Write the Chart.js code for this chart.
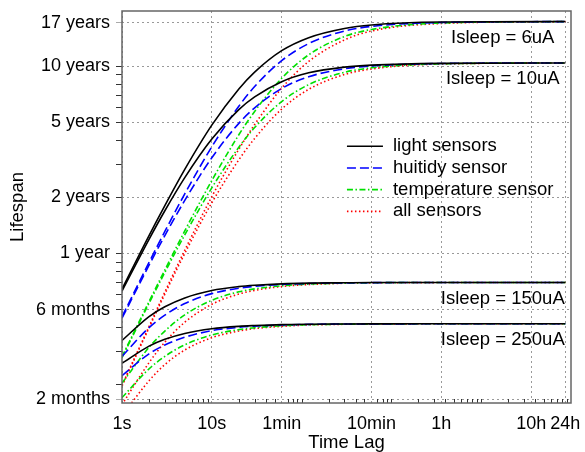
<!DOCTYPE html>
<html>
<head>
    <title>Lifespan vs time lag</title>
    <style>
        body {
            margin: 0;
            background-color: white;
        }
    </style>
    <script src="https://cdn.jsdelivr.net/npm/chart.js"></script>
</head>
<body>
    <canvas id="lifespan-chart" width="585" height="452"></canvas>

    <script>
        // time lag between samples (seconds)
        const timeLags = [1, 2, 3, 5, 10, 20, 30, 60, 120, 300, 600, 3600, 86400];

        // lifespan in years
        const light6uA = [0.646, 1.246, 1.80, 2.81, 4.84, 7.56, 9.30, 12.1, 14.2, 15.9, 16.6, 17.2, 17.3];
        const humidity6uA = [0.459, 0.895, 1.31, 2.08, 3.71, 6.11, 7.78, 10.7, 13.2, 15.4, 16.3, 17.1, 17.3];
        const temperature6uA = [0.281, 0.553, 0.816, 1.32, 2.45, 4.30, 5.73, 8.61, 11.5, 14.4, 15.7, 17.0, 17.3];
        const all6uA = [0.198, 0.407, 0.622, 1.04, 2.01, 3.60, 4.88, 7.63, 10.6, 13.8, 15.4, 16.9, 17.3];

        const light10uA = [0.630, 1.19, 1.69, 2.54, 4.08, 5.86, 6.85, 8.26, 9.21, 9.88, 10.13, 10.35, 10.4];
        const humidity10uA = [0.451, 0.865, 1.245, 1.92, 3.24, 4.95, 5.99, 7.60, 8.78, 9.68, 10.03, 10.33, 10.4];
        const temperature10uA = [0.278, 0.542, 0.792, 1.256, 2.24, 3.69, 4.70, 6.47, 7.97, 9.27, 9.80, 10.29, 10.4];
        const all10uA = [0.196, 0.401, 0.607, 1.00, 1.865, 3.16, 4.11, 5.90, 7.52, 9.02, 9.66, 10.27, 10.4];

        const light150uA = [0.343, 0.460, 0.519, 0.579, 0.634, 0.665, 0.676, 0.688, 0.694, 0.697, 0.699, 0.700, 0.700];
        const humidity150uA = [0.282, 0.402, 0.468, 0.540, 0.610, 0.652, 0.667, 0.683, 0.691, 0.696, 0.698, 0.700, 0.700];
        const temperature150uA = [0.203, 0.315, 0.385, 0.470, 0.562, 0.624, 0.647, 0.672, 0.686, 0.694, 0.697, 0.700, 0.700];
        const all150uA = [0.156, 0.261, 0.336, 0.429, 0.535, 0.607, 0.635, 0.666, 0.682, 0.693, 0.696, 0.699, 0.700];

        const light250uA = [0.259, 0.320, 0.348, 0.374, 0.396, 0.408, 0.412, 0.417, 0.419, 0.420, 0.4206, 0.421, 0.421];
        const humidity250uA = [0.2225, 0.291, 0.3245, 0.357, 0.387, 0.403, 0.409, 0.415, 0.418, 0.420, 0.4204, 0.421, 0.421];
        const temperature250uA = [0.170, 0.242, 0.282, 0.325, 0.367, 0.392, 0.401, 0.411, 0.416, 0.419, 0.420, 0.421, 0.421];
        const all250uA = [0.136, 0.209, 0.255, 0.305, 0.355, 0.385, 0.397, 0.408, 0.415, 0.4185, 0.420, 0.421, 0.421];

        const sensorLabels = ['light sensors', 'huitidy sensor', 'temperature sensor', 'all sensors'];
        const sleepLabels = ['Isleep = 6uA', 'Isleep = 10uA', 'Isleep = 150uA', 'Isleep = 250uA'];

        const xTickValues = [1, 10, 60, 600, 3600, 36000, 86400];
        const xTickLabels = ['1s', '10s', '1min', '10min', '1h', '10h', '24h'];
        const yTickValues = [1 / 6, 0.5, 1, 2, 5, 10, 17];
        const yTickLabels = ['2 months', '6 months', '1 year', '2 years', '5 years', '10 years', '17 years'];

        const groups = [
            [light6uA, humidity6uA, temperature6uA, all6uA],
            [light10uA, humidity10uA, temperature10uA, all10uA],
            [light150uA, humidity150uA, temperature150uA, all150uA],
            [light250uA, humidity250uA, temperature250uA, all250uA]
        ];

        const sensorStyles = [
            { color: '#000000', dash: [] },
            { color: '#0000ff', dash: [9, 4] },
            { color: '#00e000', dash: [6, 2.5, 1.5, 2.5] },
            { color: '#ff0000', dash: [1.5, 2.5] }
        ];

        const FONT = '"Liberation Sans", Arial, sans-serif';

        // log minor ticks (1..9 x 10^n) that are not labelled
        function minorTicks(fromExp, toExp, majors) {
            const out = [];
            for (let e = fromExp; e <= toExp; e++) {
                for (let m = 1; m <= 9; m++) {
                    const v = m * Math.pow(10, e);
                    if (!majors.some(t => Math.abs(t - v) / v < 1e-6)) out.push(v);
                }
            }
            return out;
        }
        const xMinor = minorTicks(0, 4, xTickValues).concat([100000]);
        const yMinor = minorTicks(-1, 1, yTickValues).filter(v => v > 0.16 && v < 19);

        function isLabelled(list, v) {
            return list.findIndex(t => Math.abs(t - v) / t < 1e-6);
        }

        const datasets = [];
        sensorStyles.forEach((style, s) => {
            groups.forEach((group, g) => {
                datasets.push({
                    label: sensorLabels[s] + ' ' + sleepLabels[g],
                    data: timeLags.map((t, i) => ({ x: t, y: group[s][i] })),
                    borderColor: style.color,
                    borderDash: style.dash,
                    borderWidth: 1.6,
                    pointRadius: 0,
                    fill: false,
                    cubicInterpolationMode: 'monotone'
                });
            });
        });

        const decorations = {
            id: 'decorations',
            afterDraw(chart) {
                const { ctx, chartArea: area, scales: { x, y } } = chart;
                const w = area.right - area.left;
                const h = area.bottom - area.top;
                ctx.save();

                // small inward ticks on the time axis
                ctx.strokeStyle = '#333';
                ctx.lineWidth = 1;
                xMinor.forEach(v => {
                    const px = Math.round(x.getPixelForValue(v)) + 0.5;
                    if (px <= area.left + 1 || px >= area.right - 1) return;
                    ctx.beginPath();
                    ctx.moveTo(px, area.bottom);
                    ctx.lineTo(px, area.bottom - 4);
                    ctx.stroke();
                });

                // frame
                ctx.strokeStyle = '#666';
                ctx.lineWidth = 1.5;
                ctx.strokeRect(area.left, area.top, w, h);

                // Isleep labels under each plateau
                ctx.font = '18.5px ' + FONT;
                ctx.fillStyle = '#000';
                ctx.textAlign = 'center';
                ctx.textBaseline = 'middle';
                const labelX = area.left + 0.848 * w;
                groups.forEach((group, g) => {
                    const plateau = group[0][group[0].length - 1];
                    ctx.fillText(sleepLabels[g], labelX, y.getPixelForValue(plateau) + 16);
                });

                // legend
                const lx = area.left + 0.501 * w;
                const ly = area.top + 0.345 * h;
                ctx.textAlign = 'left';
                sensorStyles.forEach((style, s) => {
                    const rowY = ly + s * 21.7;
                    ctx.strokeStyle = style.color;
                    ctx.lineWidth = 1.6;
                    ctx.setLineDash(style.dash);
                    ctx.beginPath();
                    ctx.moveTo(lx, rowY);
                    ctx.lineTo(lx + 36, rowY);
                    ctx.stroke();
                    ctx.setLineDash([]);
                    ctx.fillText(sensorLabels[s], lx + 46, rowY);
                });

                ctx.restore();
            }
        };

        const ctx = document.getElementById('lifespan-chart').getContext('2d');
        const myChart = new Chart(ctx, {
            type: 'line',
            data: { datasets: datasets },
            options: {
                responsive: false,
                animation: false,
                devicePixelRatio: 1,
                layout: { padding: { top: 11, right: 14, left: 0, bottom: 0 } },
                plugins: {
                    legend: { display: false },
                    tooltip: { enabled: false }
                },
                scales: {
                    x: {
                        type: 'logarithmic',
                        min: 1,
                        max: 100000,
                        afterBuildTicks: scale => {
                            scale.ticks = xTickValues.concat(xMinor).sort((a, b) => a - b).map(v => ({ value: v }));
                        },
                        afterFit: scale => {
                            scale.height = 49;
                            scale.paddingLeft = 0;
                            scale.paddingRight = 0;
                        },
                        ticks: {
                            autoSkip: false,
                            maxRotation: 0,
                            padding: 10,
                            color: '#000',
                            font: { family: FONT, size: 18 },
                            callback: (value) => {
                                const i = isLabelled(xTickValues, value);
                                return i >= 0 ? xTickLabels[i] : '';
                            }
                        },
                        grid: {
                            drawTicks: false,
                            lineWidth: 1,
                            color: c => (c.tick && isLabelled(xTickValues, c.tick.value) >= 0) ? '#999' : 'rgba(0,0,0,0)'
                        },
                        border: { display: false, dash: [2, 3] },
                        title: {
                            display: true,
                            text: 'Time Lag',
                            color: '#000',
                            font: { family: FONT, size: 18.5 },
                            padding: { top: 0, bottom: -2 }
                        }
                    },
                    y: {
                        type: 'logarithmic',
                        min: 0.159,
                        max: 19.7,
                        afterBuildTicks: scale => {
                            scale.ticks = yTickValues.concat(yMinor).sort((a, b) => a - b).map(v => ({ value: v }));
                        },
                        afterFit: scale => {
                            scale.width = 122;
                            scale.paddingTop = 0;
                            scale.paddingBottom = 0;
                        },
                        ticks: {
                            autoSkip: false,
                            padding: 6,
                            color: '#000',
                            font: { family: FONT, size: 18 },
                            callback: (value) => {
                                const i = isLabelled(yTickValues, value);
                                return i >= 0 ? yTickLabels[i] : '';
                            }
                        },
                        grid: {
                            lineWidth: 1,
                            tickLength: 6,
                            tickBorderDash: [],
                            color: c => (c.tick && isLabelled(yTickValues, c.tick.value) >= 0) ? '#999' : 'rgba(0,0,0,0)',
                            tickColor: c => {
                                if (!c.tick) return '#333';
                                const v = c.tick.value;
                                return (Math.abs(v - 17) < 0.01 || Math.abs(v - 1 / 6) < 0.001) ? '#aaa' : '#333';
                            }
                        },
                        border: { display: false, dash: [2, 3] },
                        title: {
                            display: true,
                            text: 'Lifespan',
                            color: '#000',
                            font: { family: FONT, size: 18.5 },
                            padding: { top: 6.5, bottom: 0 }
                        }
                    }
                }
            },
            plugins: [decorations]
        });
    </script>
</body>
</html>
